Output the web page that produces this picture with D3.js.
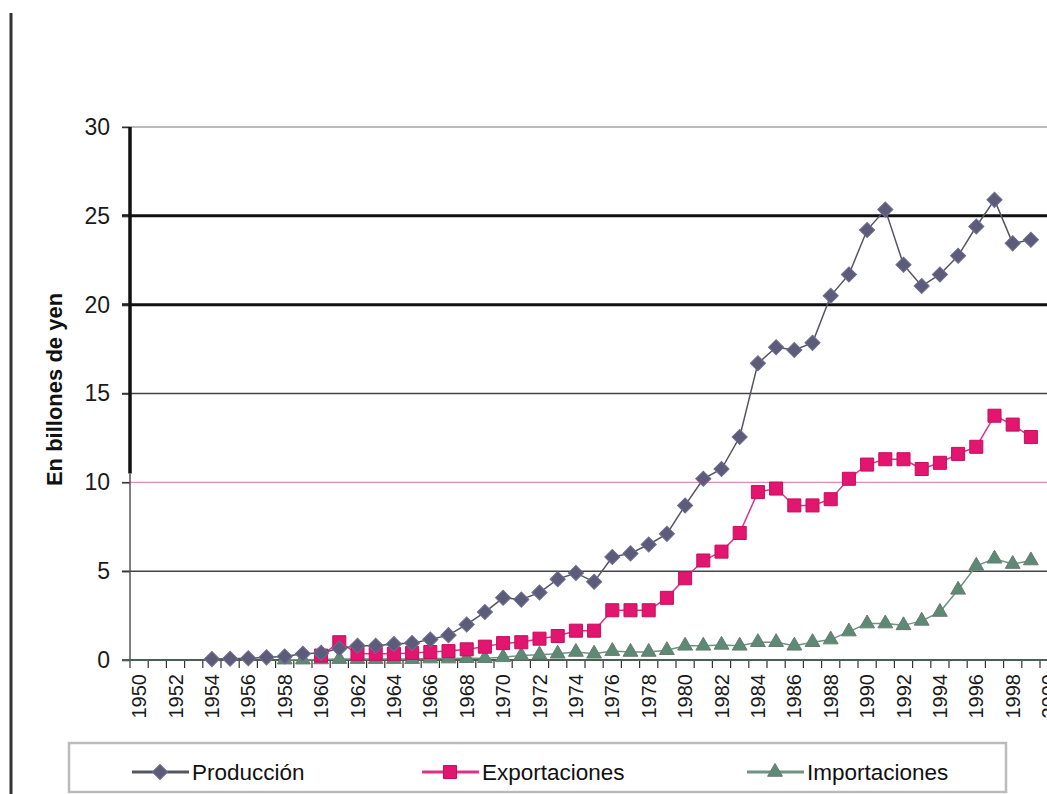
<!DOCTYPE html>
<html>
<head>
<meta charset="utf-8">
<script src="https://cdn.jsdelivr.net/npm/d3@7"></script>
<style>
  body { margin: 0; background: #fff; }
  svg { display: block; font-family: "Liberation Sans", Arial, sans-serif; }
</style>
</head>
<body>
<div id="chart"></div>
<script>
// categories
var years = [];
for (var yr = 1950; yr <= 2000; yr++) years.push(yr);
var yTicks = [0, 5, 10, 15, 20, 25, 30];

// series (billones de yen)
var prodStart = 1954;
var produccion = [0.05, 0.07, 0.1, 0.15, 0.2, 0.35, 0.4, 0.65, 0.8, 0.8,
                  0.9, 0.95, 1.15, 1.4, 2.0, 2.7, 3.5, 3.4, 3.8, 4.55,
                  4.9, 4.4, 5.8, 6.0, 6.5, 7.1, 8.7, 10.2, 10.75, 12.55,
                  16.7, 17.6, 17.45, 17.85, 20.5, 21.7, 24.2, 25.35, 22.25, 21.05,
                  21.7, 22.75, 24.4, 25.9, 23.45, 23.65];
var expStart = 1960;
var exportaciones = [0.25, 1.0, 0.35, 0.35, 0.35, 0.4, 0.45, 0.5, 0.6, 0.75,
                     0.95, 1.0, 1.2, 1.35, 1.65, 1.65, 2.8, 2.8, 2.8, 3.5,
                     4.6, 5.6, 6.1, 7.15, 9.45, 9.65, 8.7, 8.7, 9.05, 10.2,
                     11.0, 11.3, 11.3, 10.75, 11.1, 11.6, 12.0, 13.75, 13.25, 12.55];
var impStart = 1958;
var importaciones = [0.02, 0.02, 0.03, 0.05, 0.05, 0.05, 0.05, 0.05, 0.08, 0.08,
                     0.1, 0.1, 0.15, 0.25, 0.3, 0.35, 0.45, 0.35, 0.5, 0.45,
                     0.45, 0.55, 0.8, 0.8, 0.85, 0.8, 1.0, 1.0, 0.8, 1.0,
                     1.15, 1.6, 2.05, 2.05, 1.95, 2.2, 2.7, 3.95, 5.3, 5.7,
                     5.4, 5.6];

function init() {
    var w = 1047, h = 794;
    var left = 130, top = 127, bottom = 660;
    var band = 18.2;

    var svg = d3.select("#chart").append("svg")
        .attr("width", w).attr("height", h);

    var xScale = d3.scaleBand()
        .domain(years)
        .range([left, left + band * years.length]);

    var yScale = d3.scaleLinear()
        .domain([0, 30])
        .range([bottom, top]);

    function cx(yr) { return xScale(yr) + xScale.bandwidth() / 2; }

    // page edge on the left
    svg.append("line")
        .attr("x1", 11).attr("x2", 11).attr("y1", 13).attr("y2", h)
        .attr("stroke", "#333").attr("stroke-width", 3);

    // gridlines (the scan has odd weights / colours)
    var gridStyle = {
        30: ["#bbb", 2], 25: ["#111", 3], 20: ["#111", 3],
        15: ["#444", 1.5], 10: ["#e58ab8", 1.2], 5: ["#444", 1.5]
    };
    svg.selectAll(".grid")
        .data(yTicks.filter(function(d) { return d > 0; }))
        .enter().append("line")
        .attr("class", "grid")
        .attr("x1", left - 8).attr("x2", w)
        .attr("y1", function(d) { return yScale(d); })
        .attr("y2", function(d) { return yScale(d); })
        .attr("stroke", function(d) { return gridStyle[d][0]; })
        .attr("stroke-width", function(d) { return gridStyle[d][1]; });

    // y axis
    var yAxis = d3.axisLeft(yScale).tickValues(yTicks).tickSize(8).tickPadding(12);
    var gy = svg.append("g")
        .attr("transform", "translate(" + left + ",0)")
        .call(yAxis);
    gy.select(".domain").remove();
    gy.selectAll("line").attr("stroke", "#333").attr("stroke-width", 1.5);
    gy.selectAll("text")
        .attr("font-size", "23px")
        .attr("fill", "#1a1a1a")
        .attr("font-family", "Liberation Sans, Arial, sans-serif");

    // y axis line: thick dark top part, thinner lower part
    svg.append("line")
        .attr("x1", left).attr("x2", left)
        .attr("y1", yScale(30)).attr("y2", yScale(10.5))
        .attr("stroke", "#111").attr("stroke-width", 3.5);
    svg.append("line")
        .attr("x1", left).attr("x2", left)
        .attr("y1", yScale(10.5)).attr("y2", yScale(0))
        .attr("stroke", "#555").attr("stroke-width", 1.5);

    // x axis
    var xAxis = d3.axisBottom(xScale)
        .tickValues(years.filter(function(d) { return d % 2 === 0; }))
        .tickSize(0).tickPadding(0);
    var gx = svg.append("g")
        .attr("transform", "translate(0," + bottom + ")")
        .call(xAxis);
    gx.select(".domain").remove();
    gx.selectAll("text")
        .attr("font-size", "20px")
        .attr("fill", "#1a1a1a")
        .attr("font-family", "Liberation Sans, Arial, sans-serif")
        .attr("transform", "translate(0,14) rotate(-90)")
        .attr("dy", "0.35em")
        .attr("text-anchor", "end");

    // ticks between categories
    svg.selectAll(".xtick")
        .data(years)
        .enter().append("line")
        .attr("class", "xtick")
        .attr("x1", function(d) { return xScale(d); })
        .attr("x2", function(d) { return xScale(d); })
        .attr("y1", bottom).attr("y2", bottom + 8)
        .attr("stroke", "#333").attr("stroke-width", 1.2);

    svg.append("line")
        .attr("x1", left - 8).attr("x2", w)
        .attr("y1", bottom).attr("y2", bottom)
        .attr("stroke", "#4d5e55").attr("stroke-width", 2);

    // series
    var series = [
        { name: "Producción", start: prodStart, values: produccion,
          line: "#555560", fill: "#5c5c7a", stroke: "#6e6e94",
          shape: d3.symbolSquare, size: 115, rot: 45 },
        { name: "Exportaciones", start: expStart, values: exportaciones,
          line: "#e0308a", fill: "#e2156f", stroke: "#c40f5e",
          shape: d3.symbolSquare, size: 170, rot: 0 },
        { name: "Importaciones", start: impStart, values: importaciones,
          line: "#6f9484", fill: "#5d8a74", stroke: "#6a7a72",
          shape: d3.symbolTriangle, size: 95, rot: 0 }
    ];

    var line = d3.line()
        .x(function(d) { return cx(d.year); })
        .y(function(d) { return yScale(d.value); });

    // draw importaciones first, producción on top
    series.slice().reverse().forEach(function(s) {
        var pts = s.values.map(function(v, i) { return { year: s.start + i, value: v }; });
        svg.append("path")
            .datum(pts)
            .attr("d", line)
            .attr("fill", "none")
            .attr("stroke", s.line)
            .attr("stroke-width", 1.5);
        svg.append("g").selectAll("path")
            .data(pts)
            .enter().append("path")
            .attr("d", d3.symbol().type(s.shape).size(s.size))
            .attr("transform", function(d) {
                return "translate(" + cx(d.year) + "," + yScale(d.value) + ") rotate(" + s.rot + ")";
            })
            .attr("fill", s.fill)
            .attr("stroke", s.stroke)
            .attr("stroke-width", 1);
    });

    // y title
    svg.append("text")
        .attr("transform", "translate(62," + ((yScale(30) + yScale(0)) / 2 - 4) + ") rotate(-90)")
        .attr("text-anchor", "middle")
        .attr("font-size", "22px")
        .attr("font-weight", "bold")
        .attr("fill", "#111")
        .text("En billones de yen");

    // legend
    svg.append("rect")
        .attr("x", 69).attr("y", 743)
        .attr("width", 937).attr("height", 49)
        .attr("fill", "#fff")
        .attr("stroke", "#bbb").attr("stroke-width", 2.5);

    var legendX = [132, 422, 747];
    var ly = 772;
    series.forEach(function(s, i) {
        var g = svg.append("g");
        g.append("line")
            .attr("x1", legendX[i]).attr("x2", legendX[i] + 57)
            .attr("y1", ly).attr("y2", ly)
            .attr("stroke", s.line).attr("stroke-width", 3);
        g.append("path")
            .attr("d", d3.symbol().type(s.shape).size(s.size))
            .attr("transform", "translate(" + (legendX[i] + 28) + "," + ly + ") rotate(" + s.rot + ")")
            .attr("fill", s.fill).attr("stroke", s.stroke);
        g.append("text")
            .attr("x", legendX[i] + 60).attr("y", ly)
            .attr("dy", "0.35em")
            .attr("font-size", "22.5px")
            .attr("fill", "#111")
            .text(s.name);
    });
}

window.onload = init;
</script>
</body>
</html>
